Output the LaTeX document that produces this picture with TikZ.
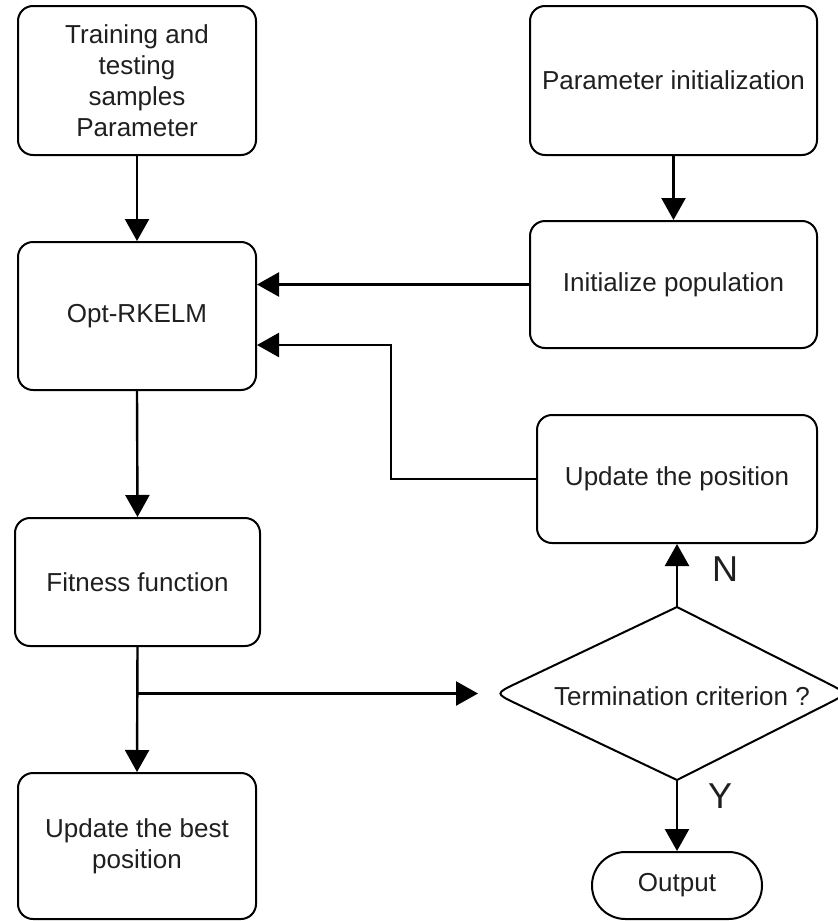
\documentclass[tikz,border=0pt]{standalone}
\usepackage{fontspec}
\setmainfont{Liberation Sans}
\usetikzlibrary{arrows.meta,calc}
\begin{document}
\begin{tikzpicture}[x=0.5pt,y=-0.5pt,
  box/.style={draw, line width=1pt, rounded corners=7.5pt, align=center, inner sep=0pt,
    font=\fontsize{13}{15.5}\selectfont, text=black!88},
  arr/.style={line width=1.2pt, -{Triangle[length=11pt,width=12pt]}},
  lbl/.style={font=\fontsize{18}{20}\selectfont, text=black!88, inner sep=0pt}]
\useasboundingbox (0,0) rectangle (838,921);
% boxes
\node[box, minimum width=119pt, minimum height=74.5pt] (train) at (137,80.5) {Training and\\testing\\samples\\Parameter};
\node[box, minimum width=119pt, minimum height=74pt] (opt) at (137,316) {Opt-RKELM};
\node[box, minimum width=143.5pt, minimum height=74.5pt] (pinit) at (673.5,80.5) {Parameter initialization};
\node[box, minimum width=143.5pt, minimum height=63.5pt] (init) at (673.5,284.5) {Initialize population};
\node[box, minimum width=140pt, minimum height=64pt] (upd) at (677,479) {Update the position};
\node[box, minimum width=122.5pt, minimum height=64pt] (fit) at (137.5,582) {Fitness function};
\node[box, minimum width=119pt, minimum height=73pt] (best) at (137,846) {Update the best\\position};
\node[box, rounded corners=16.7pt, minimum width=85pt, minimum height=33.5pt] (out) at (677,885.5) {Output};
% decision
\coordinate (dtop) at (677,607);
\coordinate (dbot) at (677,780);
\coordinate (dl) at (495,693.5);
\coordinate (dr) at (848,693.5);
\draw[line width=1pt]
  (dtop) -- ($(dr)!0.125!(dtop)$) .. controls (dr) .. ($(dr)!0.125!(dbot)$)
  -- (dbot) -- ($(dl)!0.12!(dbot)$) .. controls (dl) .. ($(dl)!0.12!(dtop)$) -- cycle;
\node[font=\fontsize{13}{15.5}\selectfont, text=black!88, inner sep=0pt] (term) at (682,696) {Termination criterion ?};
% connectors
\draw[arr] (train.south) -- (opt.north);
\draw[arr] (pinit.south) -- (init.north);
\draw[arr] (init.west) -- (init.west -| opt.east);
\draw[arr] (upd.west) -- ++(-145,0) |- ($(opt.east)+(0,29)$);
\draw[arr] (opt.south) -- (fit.south |- fit.north);
\draw[arr] (fit.south) -- (best.north);
\coordinate (branch) at (fit.south |- dl);
\coordinate (bend) at (478,693.5);
\draw[arr] (branch) -- (bend);
\draw[arr] (dtop) -- (upd.south);
\draw[arr] (dbot) -- (out.north);
\node[lbl] (nlab) at (725,569.5) {N};
\node[lbl] (ylab) at (720,796.5) {Y};
\end{tikzpicture}
\end{document}
